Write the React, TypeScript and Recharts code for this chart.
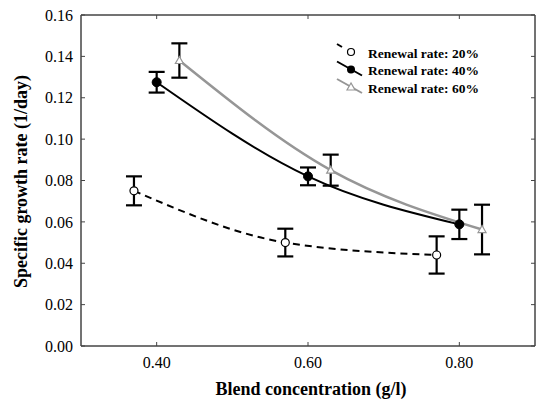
import React from 'react';
import { ComposedChart, Line, XAxis, YAxis, ErrorBar, Legend, ReferenceArea } from 'recharts';

// blend concentration (g/l), growth rate (1/day), error (+/-)
const blend20 = [0.37, 0.57, 0.77];
const rate20 = [0.075, 0.05, 0.044];
const err20 = [0.007, 0.0067, 0.009];

const blend40 = [0.4, 0.6, 0.8];
const rate40 = [0.1275, 0.082, 0.0588];
const err40 = [0.005, 0.0043, 0.0071];

const blend60 = [0.43, 0.63, 0.83];
const rate60 = [0.138, 0.085, 0.0563];
const err60 = [0.0083, 0.0075, 0.012];

const xTicks = [0.4, 0.6, 0.8];
const yTicks = [0, 0.02, 0.04, 0.06, 0.08, 0.1, 0.12, 0.14, 0.16];
const seriesLabels = ['Renewal rate: 20%', 'Renewal rate: 40%', 'Renewal rate: 60%'];

const toRows = (xs: number[], ys: number[], es: number[]) =>
  xs.map((x, i) => ({ x, y: ys[i], err: es[i] }));

const data20 = toRows(blend20, rate20, err20);
const data40 = toRows(blend40, rate40, err40);
const data60 = toRows(blend60, rate60, err60);

const font = '"Liberation Serif", "Times New Roman", serif';
const grey60 = '#969696';
const frame = '#444';

const OpenCircle = (props: any) => {
  const { cx, cy } = props;
  if (cx == null || cy == null) return null;
  return <circle key={props.index} cx={cx} cy={cy} r={4} fill="#fff" stroke="#000" strokeWidth={1.2} />;
};

const FilledCircle = (props: any) => {
  const { cx, cy } = props;
  if (cx == null || cy == null) return null;
  return <circle key={props.index} cx={cx} cy={cy} r={4.5} fill="#000" stroke="#000" strokeWidth={1} />;
};

const OpenTriangle = (props: any) => {
  const { cx, cy } = props;
  if (cx == null || cy == null) return null;
  return (
    <polygon
      key={props.index}
      points={`${cx},${cy - 4} ${cx - 4},${cy + 3} ${cx + 4},${cy + 3}`}
      fill="#fff"
      stroke={grey60}
      strokeWidth={1.2}
    />
  );
};

// top/right frame axes carry tick marks only
const NoLabel = () => <g />;

const LegendBox = () => {
  const rows = [15, 32.5, 50];
  return (
    <svg width={180} height={62} style={{ fontFamily: font, overflow: 'visible' }}>
      {/* 20% */}
      <line x1={7} y1={rows[0] - 9} x2={12} y2={rows[0] - 6} stroke="#000" strokeWidth={2} />
      <circle cx={21} cy={rows[0] - 1} r={3.5} fill="#fff" stroke="#000" strokeWidth={1.2} />
      {/* 40% */}
      <line x1={7} y1={rows[1] - 9} x2={32} y2={rows[1] + 5} stroke="#000" strokeWidth={2} />
      <circle cx={21} cy={rows[1] - 1} r={4} fill="#000" />
      {/* 60% */}
      <line x1={7} y1={rows[2] - 9} x2={32} y2={rows[2] + 5} stroke={grey60} strokeWidth={2} />
      <polygon
        points={`21,${rows[2] - 5} 17,${rows[2] + 2} 25,${rows[2] + 2}`}
        fill="#fff"
        stroke={grey60}
        strokeWidth={1.2}
      />
      {seriesLabels.map((label, i) => (
        <text key={label} x={38} y={rows[i] + 4.5} fontSize={13.5} fontWeight="bold" fill="#000">
          {label}
        </text>
      ))}
    </svg>
  );
};

const tickStyle = { fontSize: 16, fill: '#000', fontFamily: font };

export default function App() {
  return (
    <div style={{ position: 'absolute', left: 0, top: 0, background: '#fff', fontFamily: font }}>
      <ComposedChart width={537} height={399} margin={{ top: 0, right: 0, bottom: 0, left: 0 }}>
        <XAxis
          dataKey="x"
          type="number"
          domain={[0.3, 0.9]}
          ticks={xTicks}
          tickFormatter={(v: number) => v.toFixed(2)}
          height={53}
          tickSize={-4}
          tickMargin={15}
          stroke={frame}
          tick={tickStyle}
          allowDataOverflow
        />
        <XAxis
          xAxisId="top"
          dataKey="x"
          orientation="top"
          type="number"
          domain={[0.3, 0.9]}
          ticks={xTicks}
          height={15}
          tickSize={-4}
          tick={<NoLabel />}
          stroke={frame}
          allowDataOverflow
        />
        <YAxis
          type="number"
          domain={[0, 0.16]}
          ticks={yTicks}
          tickFormatter={(v: number) => v.toFixed(2)}
          width={81}
          tickSize={-4}
          tickMargin={12}
          stroke={frame}
          tick={tickStyle}
          allowDataOverflow
        />
        <YAxis
          yAxisId="right"
          orientation="right"
          type="number"
          domain={[0, 0.16]}
          ticks={yTicks}
          width={2}
          tickSize={-4}
          tick={<NoLabel />}
          stroke={frame}
          allowDataOverflow
        />
        {/* plot frame */}
        <ReferenceArea
          x1={0.3}
          x2={0.9}
          y1={0}
          y2={0.16}
          fill="none"
          stroke={frame}
          strokeWidth={1}
          ifOverflow="visible"
        />
        <Legend
          layout="horizontal"
          verticalAlign="middle"
          align="center"
          content={() => <LegendBox />}
          wrapperStyle={{ left: 330, top: 38, width: 180, height: 62 }}
        />
        {/* invisible series so the top and right frame axes get a domain */}
        <Line
          data={data40}
          dataKey="y"
          xAxisId="top"
          yAxisId="right"
          stroke="none"
          dot={false}
          activeDot={false}
          legendType="none"
          isAnimationActive={false}
        />
        <Line
          data={data20}
          dataKey="y"
          type="monotone"
          stroke="#000"
          strokeWidth={2}
          strokeDasharray="7 5"
          dot={OpenCircle}
          activeDot={false}
          isAnimationActive={false}
        >
          <ErrorBar dataKey="err" direction="y" width={8} stroke="#000" strokeWidth={2.2} />
        </Line>
        <Line
          data={data40}
          dataKey="y"
          type="monotone"
          stroke="#000"
          strokeWidth={2}
          dot={FilledCircle}
          activeDot={false}
          isAnimationActive={false}
        >
          <ErrorBar dataKey="err" direction="y" width={8} stroke="#000" strokeWidth={2.2} />
        </Line>
        <Line
          data={data60}
          dataKey="y"
          type="monotone"
          stroke={grey60}
          strokeWidth={2.5}
          dot={OpenTriangle}
          activeDot={false}
          isAnimationActive={false}
        >
          <ErrorBar dataKey="err" direction="y" width={8} stroke="#000" strokeWidth={2.2} />
        </Line>
        <text
          x={27}
          y={181.5}
          transform="rotate(-90 27 181.5)"
          textAnchor="middle"
          fontSize={18}
          fontWeight="bold"
          fontFamily={font}
          fill="#000"
        >
          Specific growth rate (1/day)
        </text>
        <text x={311} y={395} textAnchor="middle" fontSize={18} fontWeight="bold" fontFamily={font} fill="#000">
          Blend concentration (g/l)
        </text>
      </ComposedChart>
    </div>
  );
}
